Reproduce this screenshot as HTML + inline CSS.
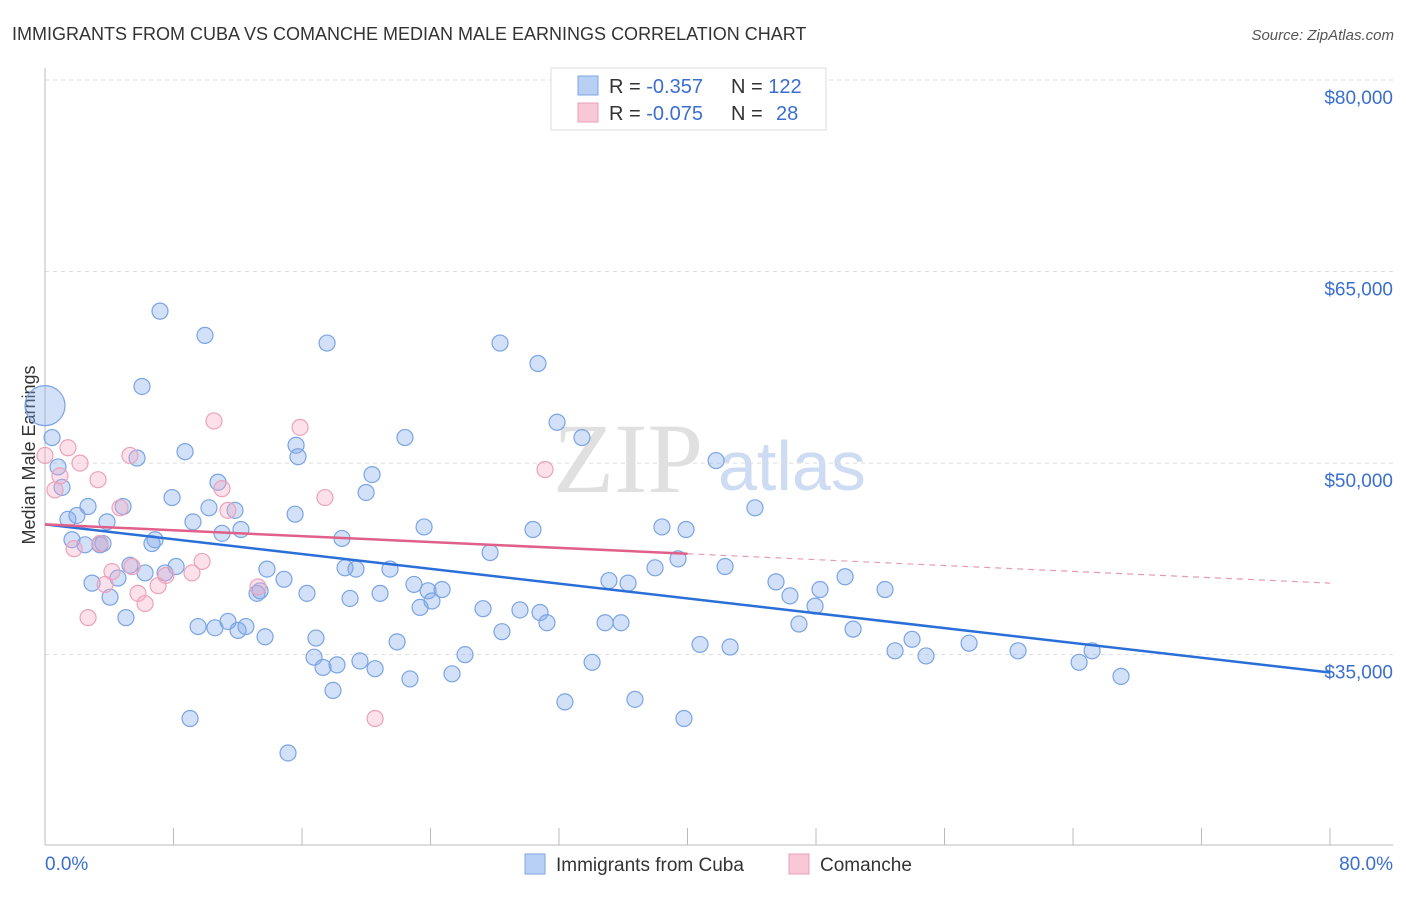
<!DOCTYPE html>
<html><head><meta charset="utf-8"><style>
body{margin:0;background:#fff;font-family:"Liberation Sans",sans-serif;}
svg text{font-family:"Liberation Sans",sans-serif;}
</style></head><body>
<svg id="chart" width="1406" height="892" xmlns="http://www.w3.org/2000/svg">
<text x="12" y="40" font-size="18" fill="#333">IMMIGRANTS FROM CUBA VS COMANCHE MEDIAN MALE EARNINGS CORRELATION CHART</text>
<text x="1394" y="40" font-size="15" fill="#555" font-style="italic" text-anchor="end">Source: ZipAtlas.com</text>
<text x="35" y="455" font-size="18" fill="#333" text-anchor="middle" transform="rotate(-90 35 455)">Median Male Earnings</text>
<text x="553" y="492" font-size="100" fill="#e0e0e0" style="font-family:'Liberation Serif',serif">ZIP</text>
<text x="718" y="490" font-size="70" fill="#cddcf2">atlas</text>
<g id="grid"></g><g id="axes"></g><g id="pts"></g><g id="lines"></g>
<g>
<rect x="551" y="68" width="275" height="62" fill="#fff" stroke="#ddd"/>
<rect x="578" y="76" width="20" height="19" fill="#b8d0f4" stroke="#7fa6e0"/>
<rect x="578" y="103" width="20" height="19" fill="#f8c8d6" stroke="#eaa0b8"/>
<text x="609" y="93" font-size="20" fill="#333">R = <tspan fill="#3a6fd0">-0.357</tspan><tspan x="731">N = </tspan><tspan fill="#3a6fd0">122</tspan></text>
<text x="609" y="120" font-size="20" fill="#333">R = <tspan fill="#3a6fd0">-0.075</tspan><tspan x="731">N = </tspan><tspan fill="#3a6fd0" x="776">28</tspan></text>
</g>
<g>
<rect x="525" y="854" width="20" height="20" fill="#b8d0f4" stroke="#7fa6e0"/>
<text x="556" y="871" font-size="19" fill="#333">Immigrants from Cuba</text>
<rect x="789" y="854" width="20" height="20" fill="#f8c8d6" stroke="#eaa0b8"/>
<text x="820" y="871" font-size="19" fill="#333">Comanche</text>
</g>
<text x="45" y="870" font-size="19" fill="#3a6fd0">0.0%</text>
<text x="1393" y="870" font-size="19" fill="#3a6fd0" text-anchor="end">80.0%</text>
</svg>
<script>
const yTicks=[35000,50000,65000,80000];
const yTickLabels=["$35,000","$50,000","$65,000","$80,000"];
const xTicks=[0,8,16,24,32,40,48,56,64,72,80];
const blueX=[0,.44,.81,1.06,1.43,1.68,1.99,2.49,2.68,2.93,3.42,3.61,3.86,4.05,4.54,4.86,5.04,5.29,5.73,6.04,6.23,6.66,6.85,7.16,7.47,7.91,8.16,8.72,9.03,9.21,9.53,9.96,10.21,10.58,10.77,11.02,11.39,11.83,12.02,12.2,12.51,13.2,13.39,13.7,13.82,14.88,15.13,15.57,15.63,15.75,16.31,16.87,16.75,17.31,17.56,17.93,18.18,18.49,18.68,18.99,19.36,19.61,19.99,20.36,20.55,20.86,21.48,21.92,22.41,22.72,22.97,23.35,23.6,23.85,24.09,24.72,25.34,26.15,27.27,27.71,28.33,28.45,29.57,30.38,30.69,30.82,31.25,31.88,32.37,33.43,34.06,34.87,35.11,35.86,36.3,36.73,37.98,38.41,39.41,39.78,39.91,40.78,41.78,42.34,42.65,44.2,45.51,46.38,46.94,47.94,48.25,49.81,50.31,52.3,52.92,53.98,54.85,57.53,60.58,64.38,65.19,66.99];
const blueY=[54.5,52.0,49.7,48.1,45.6,44.0,45.9,43.6,46.6,40.6,43.6,43.7,45.4,39.5,41.0,46.6,37.9,42.0,50.4,56.0,41.4,43.7,44.0,61.9,41.4,47.3,41.9,50.9,30.0,45.4,37.2,60.0,46.5,37.1,48.5,44.5,37.6,46.3,36.9,44.8,37.2,39.8,40.0,36.4,41.7,40.9,27.3,46.0,51.4,50.5,39.8,36.3,34.8,34.0,59.4,32.2,34.2,44.1,41.8,39.4,41.7,34.5,47.7,49.1,33.9,39.8,41.7,36.0,52.0,33.1,40.5,38.7,45.0,40.0,39.2,40.1,33.5,35.0,38.6,43.0,59.4,36.8,38.5,44.8,57.8,38.3,37.5,53.2,31.3,52.0,34.4,37.5,40.8,37.5,40.6,31.5,41.8,45.0,42.5,30.0,44.8,35.8,50.2,41.9,35.6,46.5,40.7,39.6,37.4,38.8,40.1,41.1,37.0,40.1,35.3,36.2,34.9,35.9,35.3,34.4,35.3,33.3];
const pinkX=[0,.62,.93,1.43,1.81,2.18,2.68,3.3,3.42,3.74,4.17,4.67,5.29,5.42,5.79,6.23,7.04,7.53,9.15,9.78,10.52,11.02,11.39,13.26,15.88,17.43,20.55,31.13];
const pinkY=[50.6,47.9,49.0,51.2,43.3,50.0,37.9,48.7,43.7,40.5,41.5,46.5,50.6,41.9,39.8,39.0,40.4,41.2,41.4,42.3,53.3,48.0,46.3,40.3,52.8,47.3,30.0,49.5];
const blueTrend=[45.2,33.6];
const pinkTrend=[45.2,40.6];
const NS='http://www.w3.org/2000/svg';
const X=v=>45+v/80*1285;
const Y=v=>80+(80-v)*12.77; // v in thousands
function mk(tag,at,parent){const e=document.createElementNS(NS,tag);for(const k in at)e.setAttribute(k,at[k]);document.getElementById(parent).appendChild(e);return e;}
yTicks.forEach((t,i)=>{
 const l=mk('line',{x1:45,x2:1393,y1:Y(t/1000),y2:Y(t/1000),stroke:'#ddd','stroke-dasharray':'4,4'},'grid');
 
 
 const tx=mk('text',{x:1393,y:Y(t/1000)+24,'font-size':19,fill:'#3a6fd0','text-anchor':'end'},'axes');
 tx.textContent=yTickLabels[i];
 
 
});
const ax=mk('line',{x1:45,x2:45,y1:68,y2:845,stroke:'#bbb'},'axes');


const bx=mk('line',{x1:45,x2:1393,y1:845,y2:845,stroke:'#bbb'},'axes');


xTicks.forEach(t=>{
 const l=mk('line',{x1:X(t),x2:X(t),y1:828,y2:845,stroke:'#bbb'},'axes');
 
 
});
blueX.forEach((x,i)=>{
 const c=mk('circle',{cx:X(x),cy:Y(blueY[i]),r:i===0?20:8,fill:'rgba(130,170,235,0.35)',stroke:'#7aa4e4','stroke-width':1.2},'pts');
 
 
});
pinkX.forEach((x,i)=>{
 const c=mk('circle',{cx:X(x),cy:Y(pinkY[i]),r:8,fill:'rgba(245,170,195,0.35)',stroke:'#eba2bb','stroke-width':1.2},'pts');
 
 
});
const bl=mk('line',{x1:X(0),y1:Y(blueTrend[0]),x2:X(80),y2:Y(blueTrend[1]),stroke:'#2a6fd8','stroke-width':2.5},'lines');


const pm=v=>pinkTrend[0]+(pinkTrend[1]-pinkTrend[0])*v/80;
const pl=mk('line',{x1:X(0),y1:Y(pm(0)),x2:X(40),y2:Y(pm(40)),stroke:'#e0608a','stroke-width':2.5},'lines');


const pd=mk('line',{x1:X(40),y1:Y(pm(40)),x2:X(80),y2:Y(pm(80)),stroke:'#e89ab4','stroke-width':1.2,'stroke-dasharray':'6,5'},'lines');


</script>
</body></html>
